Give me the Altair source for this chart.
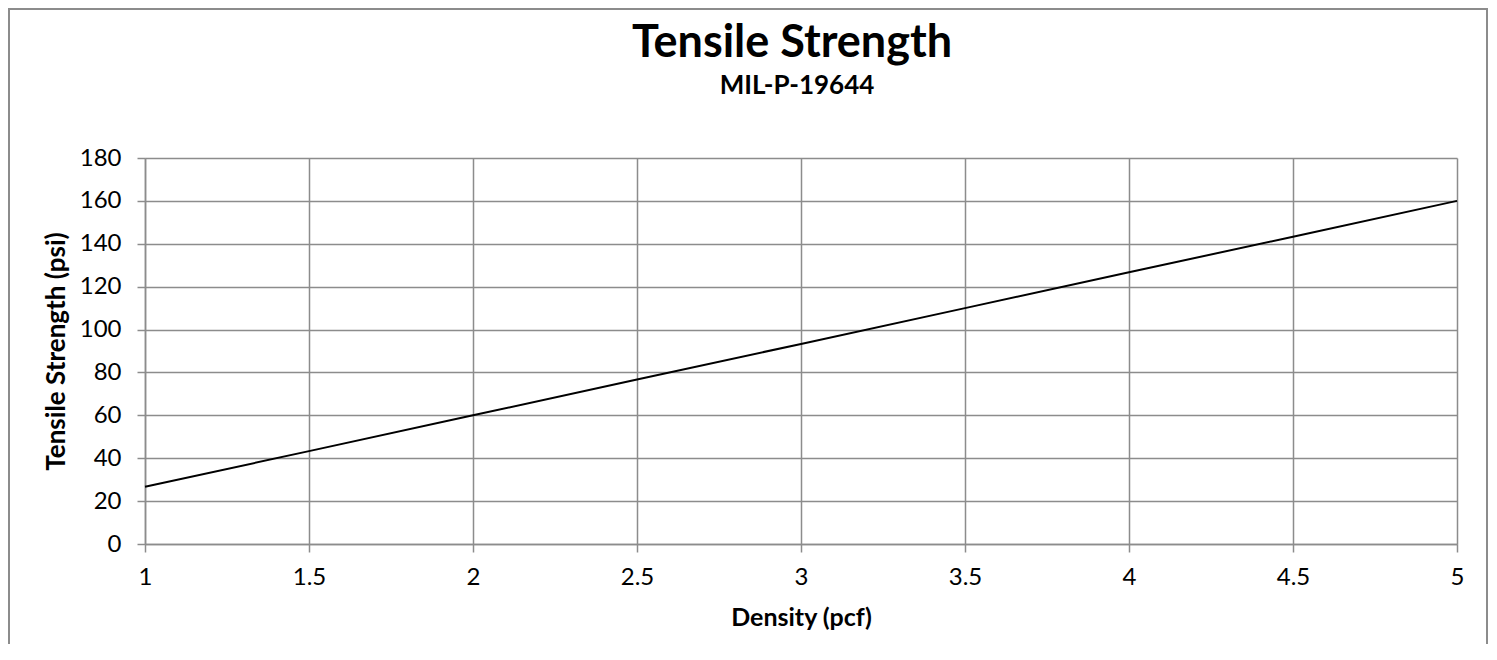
import altair as alt
import pandas as pd

density = [1, 1.5, 2, 2.5, 3, 3.5, 4, 4.5, 5]
strength = [26.7, 43.3, 60, 76.7, 93.3, 110, 126.7, 143.3, 160]
x_ticks = [1, 1.5, 2, 2.5, 3, 3.5, 4, 4.5, 5]
y_ticks = [0, 20, 40, 60, 80, 100, 120, 140, 160, 180]
title_text = "Tensile Strength"
subtitle_text = "MIL-P-19644"

df = pd.DataFrame({"density": density, "strength": strength})

GRID = "#8c8c8c"
FONT = "Lato"

line = alt.Chart(df).mark_line(color="black", strokeWidth=2).encode(
    x=alt.X("density:Q", scale=alt.Scale(domain=[1, 5], nice=False),
            axis=alt.Axis(values=x_ticks, format="~g", title="Density (pcf)",
                          titleFontSize=25, titlePadding=16, labelPadding=13)),
    y=alt.Y("strength:Q", scale=alt.Scale(domain=[0, 180], nice=False),
            axis=alt.Axis(values=y_ticks, title="Tensile Strength (psi)",
                          titleFontSize=26, titlePadding=10, labelPadding=16)),
)

one = pd.DataFrame({"t": [title_text], "s": [subtitle_text]})

border = alt.Chart(one).mark_rect(
    fill=None, stroke=GRID, strokeWidth=2
).encode(
    x=alt.value(-136), x2=alt.value(1342),
    y=alt.value(-149), y2=alt.value(600),
)

title = alt.Chart(one).mark_text(
    font=FONT, fontSize=45, fontWeight="bold", color="black",
    align="center", baseline="alphabetic"
).encode(text="t:N", x=alt.value(647), y=alt.value(-101))

subtitle = alt.Chart(one).mark_text(
    font=FONT, fontSize=26, fontWeight="bold", color="black",
    align="center", baseline="alphabetic"
).encode(text="s:N", x=alt.value(652), y=alt.value(-64))

chart = (border + line + title + subtitle).properties(
    width=1312, height=386,
    padding={"left": 137, "top": 150, "right": 32, "bottom": 100},
    autosize=alt.AutoSizeParams(type="none"),
).configure_view(stroke=None).configure_axis(
    grid=True, gridColor=GRID, gridWidth=1.5,
    domainColor=GRID, domainWidth=1.5,
    tickColor=GRID, tickWidth=1.5, tickSize=8,
    labelFont=FONT, labelFontSize=24, labelColor="black",
    titleFont=FONT, titleFontWeight="bold", titleColor="black",
).configure_axisX(labelFlush=False)

chart.save("out.html", embed_options={"renderer": "svg", "actions": False})
